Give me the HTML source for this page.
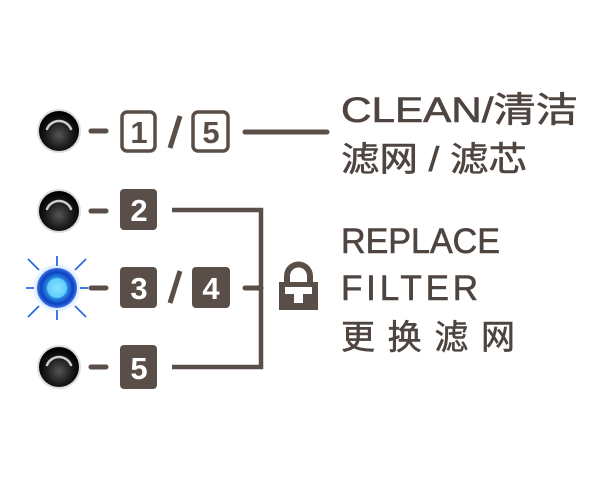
<!DOCTYPE html>
<html><head><meta charset="utf-8"><style>
html,body{margin:0;padding:0;background:#fff;width:606px;height:483px;overflow:hidden}
</style></head><body>
<svg width="606" height="483" viewBox="0 0 606 483" xmlns="http://www.w3.org/2000/svg">
<defs>
<radialGradient id="led" cx="50%" cy="60%" r="55%">
<stop offset="0" stop-color="#555"/><stop offset="0.6" stop-color="#1a1a1a"/><stop offset="1" stop-color="#000"/>
</radialGradient>
<radialGradient id="blue" cx="50%" cy="50%" r="50%">
<stop offset="0" stop-color="#9ff0ff"/><stop offset="0.45" stop-color="#2aa0f0"/><stop offset="0.8" stop-color="#1040c0"/><stop offset="1" stop-color="#3a70e0"/>
</radialGradient>
<radialGradient id="glow" cx="50%" cy="50%" r="50%">
<stop offset="0.5" stop-color="#4aa0ff" stop-opacity="0.6"/><stop offset="1" stop-color="#4aa0ff" stop-opacity="0"/>
</radialGradient>
<g id="dark">
<circle r="22" fill="#ddd"/>
<circle r="20" fill="url(#led)"/>
<path d="M-12,-2 A13,13 0 0 1 12,-2" stroke="#ccc" stroke-width="2.5" fill="none" stroke-linecap="round"/>
</g>
</defs>
<g fill="none" stroke="#5a4f48" stroke-linecap="round">
<line x1="91" y1="131" x2="106" y2="131" stroke-width="5"/>
<line x1="91" y1="211" x2="106" y2="211" stroke-width="5"/>
<line x1="91" y1="288" x2="106" y2="288" stroke-width="5"/>
<line x1="91" y1="367" x2="106" y2="367" stroke-width="5"/>
<line x1="245" y1="132" x2="327" y2="132" stroke-width="5"/>
<polyline points="172,210 261,210 261,367 172,367" stroke-width="4.5" stroke-linecap="butt"/>
<line x1="245" y1="288" x2="261" y2="288" stroke-width="5"/>
<rect x="122" y="112" width="33" height="39" rx="5" stroke-width="3.5"/>
<rect x="193" y="112" width="35" height="39" rx="5" stroke-width="3.5"/>
<line x1="180" y1="116" x2="170" y2="148" stroke-width="5" stroke-linecap="butt"/>
<line x1="180" y1="271" x2="170" y2="303" stroke-width="5" stroke-linecap="butt"/>
</g>
<use href="#dark" x="59" y="131"/>
<use href="#dark" x="59" y="211"/>
<use href="#dark" x="59" y="367"/>
<g stroke="#2a6ae0" stroke-width="1.8">
<line x1="57" y1="256" x2="57" y2="266"/><line x1="57" y1="310" x2="57" y2="320"/>
<line x1="26" y1="288" x2="34" y2="288"/><line x1="80" y1="288" x2="88" y2="288"/>
<line x1="28" y1="259" x2="39" y2="270"/><line x1="75" y1="306" x2="86" y2="317"/>
<line x1="86" y1="259" x2="75" y2="270"/><line x1="39" y1="306" x2="28" y2="317"/>
</g>
<circle cx="57" cy="288" r="25" fill="url(#glow)"/>
<circle cx="57" cy="288" r="20" fill="url(#blue)"/>
<circle cx="57" cy="288" r="10" fill="#7fe0ff" opacity="0.7"/>
<g fill="#5a4f48">
<rect x="120" y="189" width="37" height="41" rx="4"/>
<rect x="120" y="267" width="37" height="41" rx="4"/>
<rect x="192" y="267" width="38" height="41" rx="4"/>
<rect x="120" y="345" width="37" height="44" rx="4"/>
<path d="M279,282 h39 v28 h-39 z"/>
<path d="M284,282 v-6 a14,14 0 0 1 29,0 v6 h-6 v-6 a8.5,8.5 0 0 0 -17,0 v6 z"/>
</g>
<path d="M285,287 h27 v7 h-9 v9 h-9 v-9 h-9 z" fill="#fff"/>
<g font-family="Liberation Sans, sans-serif" font-weight="bold" font-size="31" text-anchor="middle">
<text x="139" y="143" fill="#5a4f48">1</text>
<text x="211" y="143" fill="#5a4f48">5</text>
<text x="139" y="221" fill="#fff">2</text>
<text x="139" y="299" fill="#fff">3</text>
<text x="211" y="299" fill="#fff">4</text>
<text x="139" y="379" fill="#fff">5</text>
</g>
<g fill="#4f4540" stroke="#4f4540" stroke-width="0.6" font-family="Liberation Sans, 'Noto Sans CJK SC', sans-serif">
<text x="341" y="122" font-size="35" textLength="237" lengthAdjust="spacingAndGlyphs">CLEAN/清洁</text>
<text x="341" y="171" font-size="34" textLength="186" lengthAdjust="spacingAndGlyphs">滤网 / 滤芯</text>
<text x="341" y="253" font-size="35" textLength="159" lengthAdjust="spacingAndGlyphs">REPLACE</text>
<text x="341" y="300" font-size="35" textLength="137" lengthAdjust="spacing">FILTER</text>
<text x="341" y="349" font-size="34" textLength="174" lengthAdjust="spacing">更换滤网</text>
</g>
</svg>
</body></html>
